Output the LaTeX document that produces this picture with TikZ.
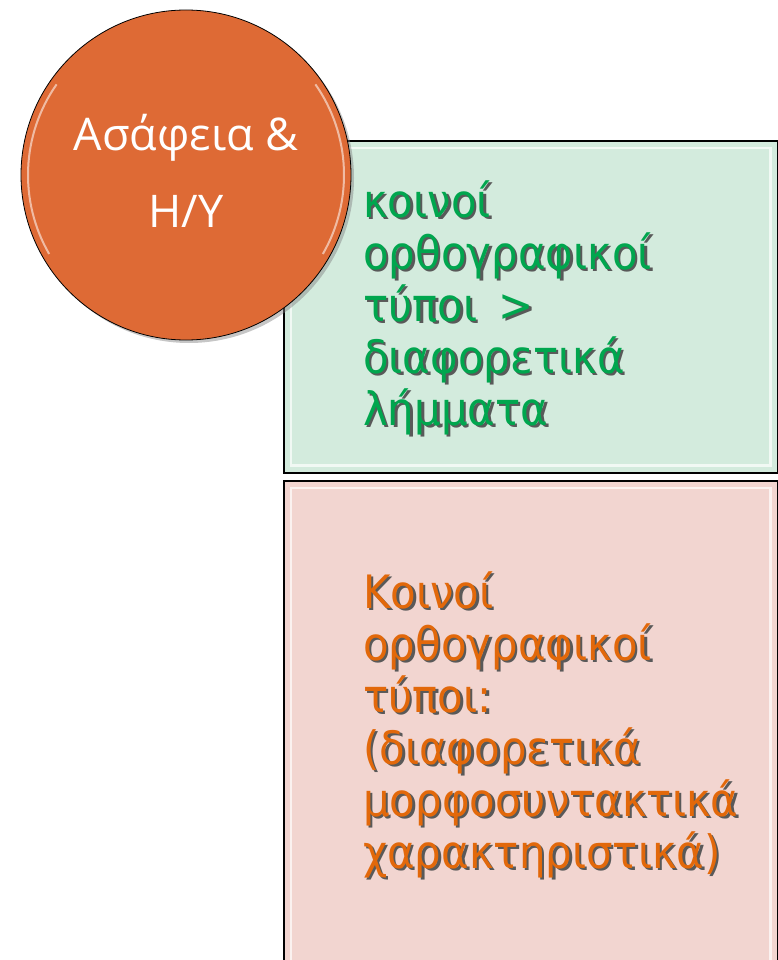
\documentclass[tikz,border=0pt]{standalone}
\usepackage{fontspec}
\setmainfont{DejaVu Sans}
\newfontfamily\hubfont{Open Sans}
\newfontfamily\leaffont[FakeStretch=0.91]{DejaVu Sans}
\usetikzlibrary{shadows}

\definecolor{hubOrange}{RGB}{222,106,53}
\definecolor{leafGreen}{RGB}{0,166,78}
\definecolor{leafGreenBg}{RGB}{211,235,221}
\definecolor{leafOrange}{RGB}{226,104,10}
\definecolor{leafPinkBg}{RGB}{242,213,208}
\newcommand\shd[1]{\rlap{\kern2.5pt\raisebox{-2.5pt}{\textcolor{black!65}{#1}}}#1}

\begin{document}
\begin{tikzpicture}[x=1pt,y=-1pt,
  leafbox/.style={draw=black,line width=1.6pt,anchor=north west,inner sep=0pt,minimum width=494},
  leaftext/.style={anchor=base west,align=left,inner sep=0pt,font=\leaffont\fontsize{46}{52}\selectfont},
  bevel/.style={white,line width=2.5pt,opacity=0.7}]
  \useasboundingbox (0,0) rectangle (778,960);
  \clip (0,0) rectangle (778,960);
  \node[leafbox,fill=leafGreenBg,minimum height=332] (upper) at (283,140) {};
  \node[leafbox,fill=leafPinkBg,minimum height=500] (lower) at (283,480) {};
  \draw[bevel] ([shift={(8,8)}]upper.north west) rectangle ([shift={(-8,-8)}]upper.south east);
  \draw[bevel] ([shift={(8,8)}]lower.north west) rectangle ([shift={(-8,-8)}]lower.south east);
  \node[leaftext,text=leafGreen] (uppertext) at (363,425)
    {\shd{κοινοί}\\ \shd{ορθογραφικοί}\\ \shd{τύποι \,>}\\ \shd{διαφορετικά}\\ \shd{λήμματα}};
  \node[leaftext,text=leafOrange] (lowertext) at (363,868)
    {\shd{Κοινοί}\\ \shd{ορθογραφικοί}\\ \shd{τύποι:}\\ \shd{(διαφορετικά}\\ \shd{μορφοσυντακτικά}\\ \shd{χαρακτηριστικά)}};
  \node[circle,draw=black,line width=0.8pt,fill=hubOrange,minimum size=330,inner sep=0pt,
    drop shadow={shadow xshift=3pt,shadow yshift=-3pt,opacity=0.45}] (hub) at (186,175) {};
  \draw[white,line width=2pt,opacity=0.55] (hub.center) ++(150:158) arc (150:215:158);
  \draw[white,line width=2pt,opacity=0.55] (hub.center) ++(-35:158) arc (-35:30:158);
  \node[anchor=base,align=center,inner sep=0pt,text=white,font=\hubfont\fontsize{45}{77}\selectfont] (hubtext) at (186,227)
    {Ασάφεια \&\\ Η/Υ};
\end{tikzpicture}
\end{document}
